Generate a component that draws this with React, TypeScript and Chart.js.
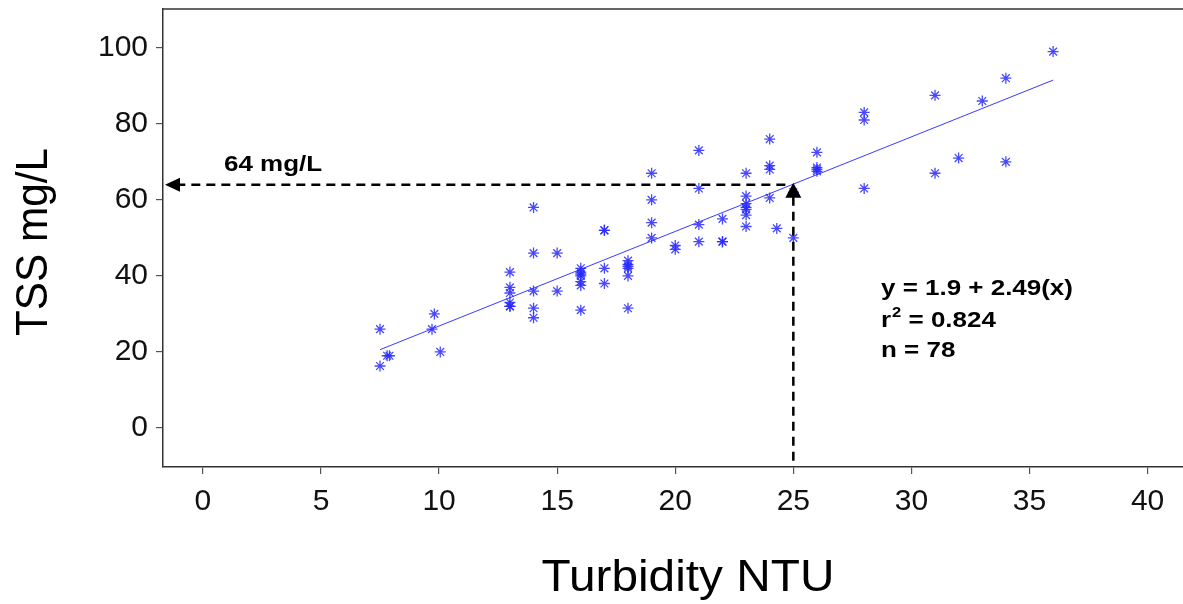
import React, { useEffect, useRef } from "react";
import { Chart, registerables } from "chart.js";
Chart.register(...registerables);

const turbidity = [
  7.5, 7.5, 7.8, 7.9, 9.8, 9.7, 10.05,
  13, 13, 13, 13, 13, 13,
  14, 14, 14, 14, 14,
  15, 15,
  16, 16, 16, 16, 16, 16, 16,
  17, 17, 17, 17,
  18, 18, 18, 18, 18, 18,
  19, 19, 19, 19,
  20, 20,
  21, 21, 21, 21,
  22, 22, 22,
  23, 23, 23, 23, 23, 23, 23,
  24, 24, 24, 24, 24.3,
  25, 25,
  26, 26, 26, 26,
  28, 28, 28,
  31, 31, 32, 33, 34, 34, 36,
];
const tss = [
  26, 16.3, 19, 19, 30, 26, 20,
  41, 37, 35.5, 32, 32, 33,
  58, 46, 36, 31.5, 29,
  46, 36,
  42, 41, 40, 38.5, 37.5, 31, 40.5,
  52, 52, 42, 38,
  44, 43, 42, 40, 31.5, 42.5,
  67, 60, 54, 50,
  48, 47,
  73, 63, 53.5, 49,
  55, 49, 49,
  67, 61, 59, 57.5, 56, 53, 58,
  76, 69, 68, 60.5, 52.5,
  50, 62,
  72.5, 68.5, 67.5, 68,
  83, 81, 63,
  87.5, 67, 71, 86, 92, 70, 99,
];
const fitX = [7.5, 36];
const fitY = [20.6, 91.5];
const xTicks = [0, 5, 10, 15, 20, 25, 30, 35, 40];
const yTicks = [0, 20, 40, 60, 80, 100];
const xTitle = "Turbidity NTU";
const yTitle = "TSS mg/L";
const readX = 25;
const readY = 64;
const readLabel = "64 mg/L";
const eqLine = "y = 1.9 + 2.49(x)";
const r2Value = " = 0.824";
const nLine = "n = 78";

const FONT = '"Liberation Sans", Arial, Helvetica, sans-serif';
const STRETCH = 1.18;

function stretchedText(ctx: any, text: string, x: number, y: number, sx: number) {
  ctx.save();
  ctx.translate(x, y);
  ctx.scale(sx, 1);
  ctx.fillText(text, 0, 0);
  ctx.restore();
  return ctx.measureText(text).width * sx;
}

export default function App() {
  const ref = useRef<HTMLCanvasElement | null>(null);
  useEffect(() => {
    if (!ref.current) return;
    const overlay = {
      id: "overlay",
      afterDraw(chart: any) {
        const { ctx, chartArea, scales } = chart;
        const xs = scales.x;
        const ys = scales.y;
        ctx.save();
        // top border
        ctx.strokeStyle = "#333";
        ctx.lineWidth = 1.5;
        ctx.beginPath();
        ctx.moveTo(chartArea.left, chartArea.top);
        ctx.lineTo(chartArea.right, chartArea.top);
        ctx.stroke();

        const px = xs.getPixelForValue(readX);
        const py = ys.getPixelForValue(readY);
        ctx.strokeStyle = "#000";
        ctx.fillStyle = "#000";
        ctx.lineWidth = 2.5;
        ctx.setLineDash([9, 6]);
        ctx.beginPath();
        ctx.moveTo(px - 8, py);
        ctx.lineTo(chartArea.left + 14, py);
        ctx.stroke();
        ctx.beginPath();
        ctx.moveTo(px, py + 12);
        ctx.lineTo(px, chartArea.bottom);
        ctx.stroke();
        ctx.setLineDash([]);
        // left arrowhead
        ctx.beginPath();
        ctx.moveTo(chartArea.left + 2, py);
        ctx.lineTo(chartArea.left + 17, py - 7);
        ctx.lineTo(chartArea.left + 17, py + 7);
        ctx.closePath();
        ctx.fill();
        // up arrowhead
        ctx.beginPath();
        ctx.moveTo(px, py - 2);
        ctx.lineTo(px - 8, py + 13);
        ctx.lineTo(px + 8, py + 13);
        ctx.closePath();
        ctx.fill();

        // texts
        ctx.font = `bold 22px ${FONT}`;
        ctx.textBaseline = "middle";
        ctx.textAlign = "left";
        stretchedText(ctx, readLabel, 224, 165, STRETCH);
        stretchedText(ctx, eqLine, 881, 289, STRETCH);
        const rw = stretchedText(ctx, "r", 881, 321, STRETCH);
        ctx.font = `bold 14px ${FONT}`;
        const sw = stretchedText(ctx, "2", 881 + rw + 1, 313, STRETCH);
        ctx.font = `bold 22px ${FONT}`;
        stretchedText(ctx, r2Value, 881 + rw + 1 + sw, 321, STRETCH);
        stretchedText(ctx, nLine, 881, 351, STRETCH);

        // axis titles
        ctx.font = `44px ${FONT}`;
        ctx.textAlign = "center";
        const xw = ctx.measureText(xTitle).width;
        stretchedText(ctx, xTitle, 688, 579, 293 / xw);
        const yw = ctx.measureText(yTitle).width;
        ctx.save();
        ctx.translate(35, 242);
        ctx.rotate(-Math.PI / 2);
        stretchedText(ctx, yTitle, 0, 0, 188 / yw);
        ctx.restore();
        ctx.restore();
      },
    };

    const chart = new Chart(ref.current, {
      type: "scatter",
      data: {
        datasets: [
          {
            type: "scatter",
            data: turbidity.map((x, i) => ({ x, y: tss[i] })),
            pointStyle: "star",
            pointRadius: 5.5,
            pointBorderWidth: 1.3,
            borderColor: "rgba(40,40,255,0.85)",
            backgroundColor: "rgba(40,40,255,0.85)",
          },
          {
            type: "line",
            data: fitX.map((x, i) => ({ x, y: fitY[i] })),
            borderColor: "#3a3aff",
            borderWidth: 1,
            pointRadius: 0,
            fill: false,
          } as any,
        ],
      },
      options: {
        animation: false,
        responsive: false,
        layout: { autoPadding: false, padding: { top: 9, right: 0, left: 0, bottom: 0 } },
        plugins: { legend: { display: false }, tooltip: { enabled: false } },
        scales: {
          x: {
            type: "linear",
            min: -1.69,
            max: 41.5,
            afterBuildTicks: (s: any) => {
              s.ticks = xTicks.map((v) => ({ value: v }));
            },
            afterFit: (s: any) => {
              s.height = 137;
              s.paddingLeft = 0;
              s.paddingRight = 0;
            },
            grid: {
              display: true,
              drawOnChartArea: false,
              drawTicks: true,
              tickLength: 7,
              color: "#555",
              lineWidth: 1.2,
            },
            border: { display: true, color: "#333", width: 1.5 },
            ticks: {
              color: "#111",
              padding: 10,
              maxRotation: 0,
              font: { family: FONT, size: 30 },
              callback: (v: any) => String(v),
            },
          },
          y: {
            type: "linear",
            min: -10.26,
            max: 110.2,
            afterBuildTicks: (s: any) => {
              s.ticks = yTicks.map((v) => ({ value: v }));
            },
            afterFit: (s: any) => {
              s.width = 163;
              s.paddingTop = 0;
              s.paddingBottom = 0;
            },
            grid: {
              display: true,
              drawOnChartArea: false,
              drawTicks: true,
              tickLength: 7,
              color: "#555",
              lineWidth: 1.2,
            },
            border: { display: true, color: "#333", width: 1.5 },
            ticks: {
              color: "#111",
              padding: 8,
              font: { family: FONT, size: 30 },
              callback: (v: any) => String(v),
            },
          },
        },
      },
      plugins: [overlay],
    } as any);
    return () => chart.destroy();
  }, []);
  return (
    <div style={{ position: "fixed", left: 0, top: 0, width: 1183, height: 604, background: "#fff" }}>
      <canvas ref={ref} width={1183} height={604} style={{ display: "block" }} />
    </div>
  );
}
